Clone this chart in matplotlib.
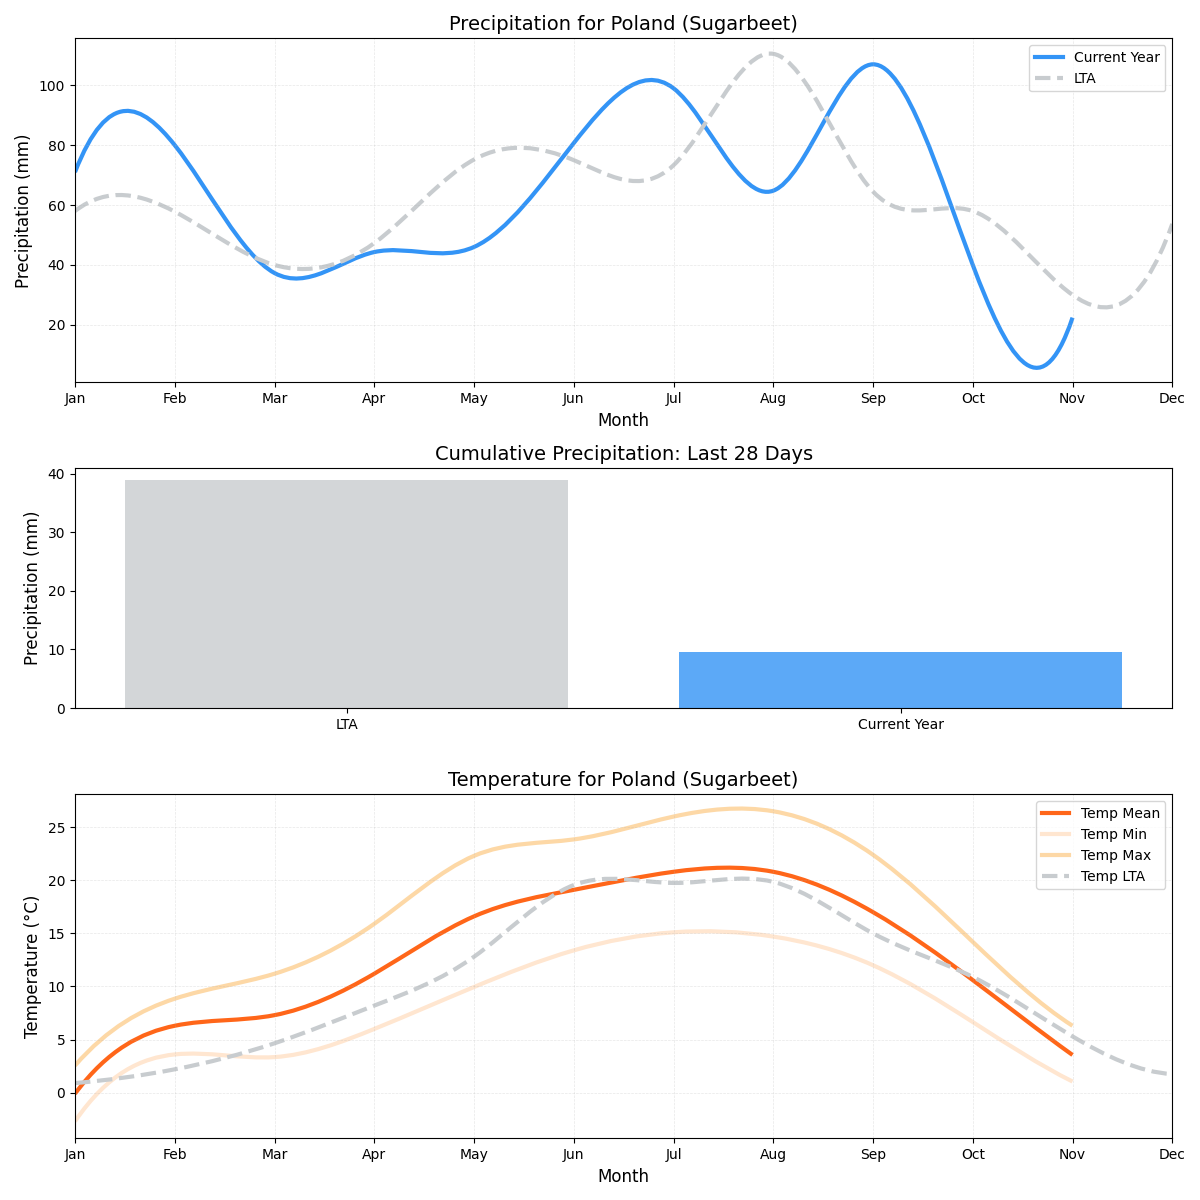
import numpy as np
import matplotlib
matplotlib.use("Agg")
import matplotlib.pyplot as plt
from matplotlib.path import Path
from matplotlib.patches import PathPatch

# === data ===
months = ["Jan", "Feb", "Mar", "Apr", "May", "Jun", "Jul", "Aug", "Sep", "Oct", "Nov", "Dec"]

precip_current = [71, 80, 37.3, 44.3, 46, 80.7, 99, 64.8, 107, 40, 22.4]
precip_lta = [58, 57.8, 40, 47.3, 75.2, 75, 73.3, 110.5, 64.5, 58, 30, 53.7]

bar_labels = ["LTA", "Current Year"]
bar_values = [39.0, 9.5]

temp_mean = [-0.1, 6.3, 7.3, 11.2, 16.6, 19.1, 20.8, 20.8, 17.0, 10.6, 3.55]
temp_min = [-2.7, 3.6, 3.35, 6.0, 9.95, 13.4, 15.1, 14.7, 12.0, 6.65, 1.05]
temp_max = [2.55, 8.85, 11.2, 15.9, 22.3, 23.85, 26.0, 26.5, 22.4, 14.2, 6.3]
temp_lta = [0.9, 2.2, 4.65, 8.2, 12.8, 19.55, 19.75, 19.85, 15.0, 10.9, 5.3, 1.75]

BLUE = "#3394F6"
GREY = "#C8CCCF"


# === smooth line through monthly values, drawn as bezier path ===
def smooth_line(ax, values, color, lw=3, ls="-", label=None):
    y = np.asarray(values, dtype=float)
    n = len(y)
    x = np.arange(n, dtype=float)
    # slopes of a not-a-knot cubic spline (unit spacing)
    A = np.zeros((n, n))
    b = np.zeros(n)
    for i in range(1, n - 1):
        A[i, i - 1], A[i, i], A[i, i + 1] = 1, 4, 1
        b[i] = 3 * (y[i + 1] - y[i - 1])
    A[0, 0], A[0, 2] = 1, -1
    b[0] = 4 * y[1] - 2 * y[0] - 2 * y[2]
    A[-1, -3], A[-1, -1] = 1, -1
    b[-1] = 4 * y[-2] - 2 * y[-3] - 2 * y[-1]
    m = np.linalg.solve(A, b)

    verts = [(x[0], y[0])]
    codes = [Path.MOVETO]
    for i in range(n - 1):
        verts += [(x[i] + 1 / 3, y[i] + m[i] / 3),
                  (x[i + 1] - 1 / 3, y[i + 1] - m[i + 1] / 3),
                  (x[i + 1], y[i + 1])]
        codes += [Path.CURVE4] * 3
    ax.add_patch(PathPatch(Path(verts, codes), fill=False, edgecolor=color,
                           lw=lw, linestyle=ls, capstyle="butt", joinstyle="round"))
    ax.plot([], [], color=color, lw=lw, ls=ls, label=label)


fig = plt.figure(figsize=(12, 12), dpi=100)
ax1 = fig.add_axes([0.0625, 0.6814, 0.9144, 0.2867])
ax2 = fig.add_axes([0.0625, 0.4100, 0.9144, 0.1998])
ax3 = fig.add_axes([0.0625, 0.0514, 0.9144, 0.2867])

# === precipitation ===
smooth_line(ax1, precip_current, BLUE, label="Current Year")
smooth_line(ax1, precip_lta, GREY, ls="--", label="LTA")
ax1.set_xlim(0, 11)
ax1.set_ylim(0.8, 115.7)
ax1.set_xticks(range(12))
ax1.set_xticklabels(months)
ax1.set_title("Precipitation for Poland (Sugarbeet)", fontsize=14)
ax1.set_xlabel("Month", fontsize=12)
ax1.set_ylabel("Precipitation (mm)", fontsize=12)
ax1.grid(True, linestyle="--", linewidth=0.5, alpha=0.3)
ax1.legend(loc="upper right")

# === cumulative bars ===
ax2.bar(bar_labels, bar_values, color=[GREY, BLUE], alpha=0.8)
ax2.set_title("Cumulative Precipitation: Last 28 Days", fontsize=14)
ax2.set_ylabel("Precipitation (mm)", fontsize=12)

# === temperature ===
smooth_line(ax3, temp_mean, "#FF6619", label="Temp Mean")
smooth_line(ax3, temp_min, "#FFE6D0", label="Temp Min")
smooth_line(ax3, temp_max, "#FDD8A6", label="Temp Max")
smooth_line(ax3, temp_lta, GREY, ls="--", label="Temp LTA")
ax3.set_xlim(0, 11)
ax3.set_ylim(-4.3, 28.1)
ax3.set_xticks(range(12))
ax3.set_xticklabels(months)
ax3.set_title("Temperature for Poland (Sugarbeet)", fontsize=14)
ax3.set_xlabel("Month", fontsize=12)
ax3.set_ylabel("Temperature (°C)", fontsize=12)
ax3.grid(True, linestyle="--", linewidth=0.5, alpha=0.3)
ax3.legend(loc="upper right")

fig.savefig("out.png", dpi=100)
